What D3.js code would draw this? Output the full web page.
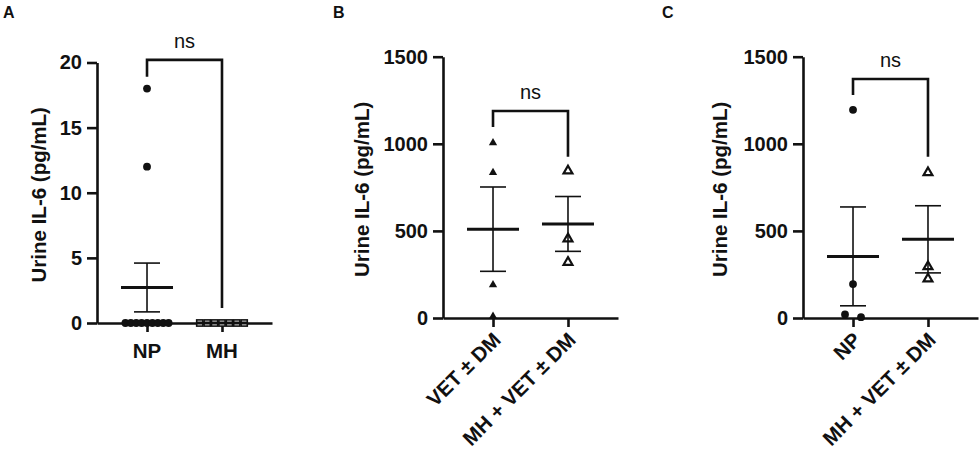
<!DOCTYPE html>
<html>
<head>
<meta charset="utf-8">
<script src="https://cdn.jsdelivr.net/npm/d3@7"></script>
<style>
  body { margin: 0; background: #fff; }
  text { font-family: "Liberation Sans", Arial, sans-serif; fill: #111; }
</style>
</head>
<body>
<svg id="chart" width="980" height="451"></svg>
<script>
// data
const catsA = ["NP", "MH"]
const npA = [18, 12, 0, 0, 0, 0, 0, 0, 0, 0, 0]
const mhA = [0, 0, 0, 0, 0, 0, 0]
const ticksA = [0, 5, 10, 15, 20]

const catsB = ["VET ± DM", "MH + VET ± DM"]
const vetB = [1005, 835, 190, 10]
const mhB = [845, 455, 320]
const ticksB = [0, 500, 1000, 1500]

const catsC = ["NP", "MH + VET ± DM"]
const npC = [1195, 195, 5, 20]
const mhC = [835, 295, 225]
const ticksC = [0, 500, 1000, 1500]

const ink = "#111"
const svg = d3.select("#chart")

function meanSem(v) {
    const m = d3.mean(v)
    const sem = d3.deviation(v) / Math.sqrt(v.length)
    return [m, isNaN(sem) ? 0 : sem]
}

// spread points that sit on (nearly) the same height
function spread(values, y, gap, spacing) {
    let sorted = values.map((v, i) => ({ v: v, py: y(v) })).sort((a, b) => a.py - b.py)
    let groups = [], cur = []
    sorted.forEach(p => {
        if (cur.length && p.py - cur[0].py > gap) { groups.push(cur); cur = [] }
        cur.push(p)
    })
    if (cur.length) groups.push(cur)
    groups.forEach(gr => {
        gr.forEach((p, i) => { p.dx = (i - (gr.length - 1) / 2) * spacing })
    })
    return sorted
}

function drawPanel(opt) {
    const g = svg.append("g")
    const y = d3.scaleLinear().domain([0, opt.max]).range([opt.y0, opt.y1])
    const x = d3.scalePoint().domain(opt.cats).range([opt.x0, opt.x0 + 175]).padding(0.667)

    // panel letter
    g.append("text").attr("x", opt.letterX).attr("y", 18)
        .style("font-size", "16px").style("font-weight", "bold").text(opt.letter)

    // y axis
    const ya = g.append("g").attr("transform", `translate(${opt.x0},0)`)
        .call(d3.axisLeft(y).tickValues(opt.ticks).tickFormat(d3.format("d"))
            .tickSize(10).tickSizeOuter(0).tickPadding(5))
    ya.select(".domain").attr("stroke", ink).attr("stroke-width", 2.6)
    ya.selectAll(".tick line").attr("stroke", ink).attr("stroke-width", 2.6)
    ya.selectAll(".tick text").style("font-size", "20px").style("font-weight", "bold")
        .style("font-family", "Liberation Sans, Arial, sans-serif").attr("fill", ink)

    g.append("text")
        .attr("transform", `translate(${opt.labelX},${(opt.y0 + opt.y1) / 2 + 2}) rotate(-90)`)
        .attr("text-anchor", "middle")
        .style("font-size", "20.5px").style("font-weight", "bold")
        .text("Urine IL-6 (pg/mL)")

    // x axis
    const xa = g.append("g").attr("transform", `translate(0,${opt.y0})`)
        .call(d3.axisBottom(x).tickSize(9).tickSizeOuter(0).tickFormat(""))
    xa.select(".domain").attr("stroke", ink).attr("stroke-width", 2.6)
    xa.selectAll(".tick line").attr("stroke", ink).attr("stroke-width", 2.6)

    opt.cats.forEach(c => {
        if (opt.rotate) {
            g.append("text")
                .attr("transform", `translate(${x(c) + 4},${opt.y0 + 18}) rotate(-45)`)
                .attr("text-anchor", "end").attr("dy", "0.35em")
                .style("font-size", "20.5px").style("font-weight", "bold").text(c)
        } else {
            g.append("text").attr("x", x(c)).attr("y", opt.y0 + 35)
                .attr("text-anchor", "middle")
                .style("font-size", "20.5px").style("font-weight", "bold").text(c)
        }
    })

    // points + mean/sem
    opt.series.forEach((s, i) => {
        const cx = x(opt.cats[i])
        const pts = spread(s.values, y, opt.gap, opt.spacing[i])
        const [m, sem] = meanSem(s.values)

        pts.forEach(p => {
            const px = cx + p.dx
            if (s.shape === "circle") {
                g.append("circle").attr("cx", px).attr("cy", p.py).attr("r", 3.9).attr("fill", ink)
            } else if (s.shape === "square") {
                g.append("rect").attr("x", px - 3.1).attr("y", p.py - 3.1)
                    .attr("width", 6.2).attr("height", 6.2)
                    .attr("fill", "#fff").attr("stroke", ink).attr("stroke-width", 1.6)
            } else if (s.shape === "tri") {
                g.append("path").attr("d", d3.symbol(d3.symbolTriangle, 30)())
                    .attr("transform", `translate(${px},${p.py})`).attr("fill", ink)
            } else {
                g.append("path").attr("d", d3.symbol(d3.symbolTriangle, 34)())
                    .attr("transform", `translate(${px},${p.py})`)
                    .attr("fill", "#fff").attr("stroke", ink).attr("stroke-width", 2.2)
            }
        })

        g.append("line").attr("x1", cx).attr("x2", cx)
            .attr("y1", y(m + sem)).attr("y2", y(Math.max(0, m - sem)))
            .attr("stroke", ink).attr("stroke-width", 1.6)
        ;[m + sem, m - sem].forEach(v => {
            g.append("line").attr("x1", cx - 13).attr("x2", cx + 13)
                .attr("y1", y(v)).attr("y2", y(v))
                .attr("stroke", ink).attr("stroke-width", 1.6)
        })
        g.append("line").attr("x1", cx - 26).attr("x2", cx + 26)
            .attr("y1", y(m)).attr("y2", y(m))
            .attr("stroke", ink).attr("stroke-width", 3)
    })

    // significance bracket
    const b = opt.bracket
    const xl = x(opt.cats[0]), xr = x(opt.cats[1])
    g.append("path")
        .attr("d", `M${xl},${y(b.left)}V${y(b.top)}H${xr}V${y(b.right)}`)
        .attr("fill", "none").attr("stroke", ink).attr("stroke-width", 2.6)
    g.append("text").attr("x", (xl + xr) / 2).attr("y", y(b.top) - 12)
        .attr("text-anchor", "middle").style("font-size", "20px").text("ns")
}

drawPanel({
    letter: "A", letterX: 3, cats: catsA, ticks: ticksA, max: 20,
    x0: 97, y0: 323, y1: 62.5, labelX: 46, rotate: false,
    gap: 3, spacing: [5.4, 7.4],
    series: [{ values: npA, shape: "circle" }, { values: mhA, shape: "square" }],
    bracket: { top: 20.2, left: 18.9, right: 1.15 }
})

drawPanel({
    letter: "B", letterX: 333, cats: catsB, ticks: ticksB, max: 1500,
    x0: 443, y0: 318, y1: 56.7, labelX: 369, rotate: true,
    gap: 3, spacing: [8, 8],
    series: [{ values: vetB, shape: "tri" }, { values: mhB, shape: "otri" }],
    bracket: { top: 1188, left: 1096, right: 926 }
})

drawPanel({
    letter: "C", letterX: 662, cats: catsC, ticks: ticksC, max: 1500,
    x0: 803, y0: 318, y1: 56.7, labelX: 727, rotate: true,
    gap: 4, spacing: [16, 8],
    series: [{ values: npC, shape: "circle" }, { values: mhC, shape: "otri" }],
    bracket: { top: 1372, left: 1280, right: 926 }
})
</script>
</body>
</html>
